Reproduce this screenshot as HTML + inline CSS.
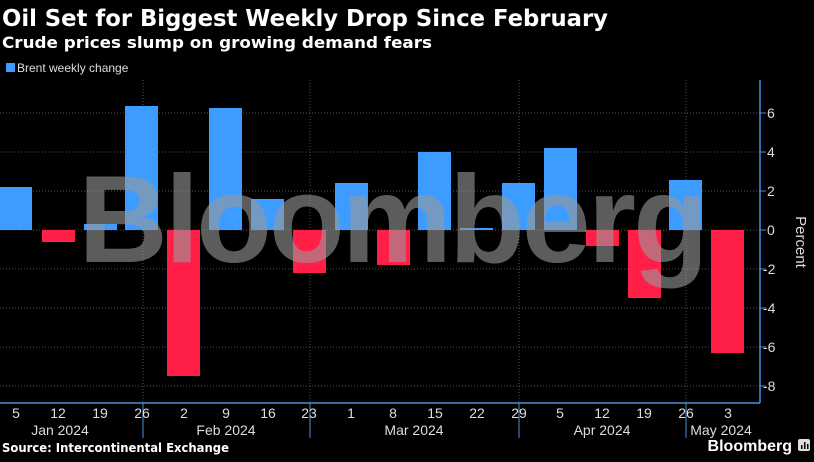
<!DOCTYPE html>
<html><head><style>
body{margin:0;background:#000;width:814px;height:457px;overflow:hidden;font-family:"Liberation Sans",sans-serif;color:#fff}
</style></head><body>
<svg width="814" height="457" xmlns="http://www.w3.org/2000/svg" font-family="Liberation Sans, sans-serif">
<rect width="814" height="457" fill="#000"/>
<text x="2" y="26" font-size="23" font-weight="bold" fill="#fff" font-family="DejaVu Sans, sans-serif" textLength="606" lengthAdjust="spacingAndGlyphs">Oil Set for Biggest Weekly Drop Since February</text>
<text x="2" y="48" font-size="16" font-weight="bold" fill="#fff" font-family="DejaVu Sans, sans-serif" textLength="430" lengthAdjust="spacingAndGlyphs">Crude prices slump on growing demand fears</text>
<rect x="6" y="63" width="9" height="9" fill="#3d9cff"/>
<text x="17" y="72" font-size="12" fill="#ddd">Brent weekly change</text>
<g stroke="#555" stroke-dasharray="1,2" stroke-width="1">
<line x1="0" x2="760" y1="113" y2="113"/><line x1="0" x2="760" y1="152" y2="152"/>
<line x1="0" x2="760" y1="191" y2="191"/><line x1="0" x2="760" y1="230" y2="230"/>
<line x1="0" x2="760" y1="269" y2="269"/><line x1="0" x2="760" y1="308" y2="308"/>
<line x1="0" x2="760" y1="347" y2="347"/><line x1="0" x2="760" y1="386" y2="386"/>
<line x1="143" x2="143" y1="80" y2="403"/><line x1="310" x2="310" y1="80" y2="403"/>
<line x1="519" x2="519" y1="80" y2="403"/><line x1="686" x2="686" y1="80" y2="403"/>
</g>
<g fill="#3d9cff">
<rect x="0" y="187" width="32" height="43"/>
<rect x="84" y="224" width="33" height="6"/>
<rect x="125" y="106" width="33" height="124"/>
<rect x="209" y="108" width="33" height="122"/>
<rect x="251" y="199" width="33" height="31"/>
<rect x="335" y="183" width="33" height="47"/>
<rect x="418" y="152" width="33" height="78"/>
<rect x="460" y="228" width="33" height="2"/>
<rect x="502" y="183" width="33" height="47"/>
<rect x="544" y="148" width="33" height="82"/>
<rect x="669" y="180" width="33" height="50"/>
</g>
<g fill="#ff1f47">
<rect x="42" y="230" width="33" height="12"/>
<rect x="167" y="230" width="33" height="146"/>
<rect x="293" y="230" width="33" height="43"/>
<rect x="377" y="230" width="33" height="35"/>
<rect x="586" y="230" width="33" height="16"/>
<rect x="628" y="230" width="33" height="68"/>
<rect x="711" y="230" width="33" height="123"/>
</g>
<text x="392" y="262" text-anchor="middle" font-size="124" font-weight="bold" fill="#9a9a9a" fill-opacity="0.6" letter-spacing="-3">Bloomberg</text>
<g stroke="#4a90d9" stroke-width="1.5" fill="none">
<line x1="760" y1="80" x2="760" y2="403"/><line x1="0" y1="403" x2="760" y2="403"/>
</g>
<g stroke="#4a90d9" stroke-width="1">
<line x1="760" x2="766" y1="113" y2="113"/><line x1="760" x2="766" y1="152" y2="152"/>
<line x1="760" x2="766" y1="191" y2="191"/><line x1="760" x2="766" y1="230" y2="230"/>
<line x1="760" x2="766" y1="269" y2="269"/><line x1="760" x2="766" y1="308" y2="308"/>
<line x1="760" x2="766" y1="347" y2="347"/><line x1="760" x2="766" y1="386" y2="386"/>
<line x1="143" x2="143" y1="403" y2="438"/><line x1="310" x2="310" y1="403" y2="438"/>
<line x1="519" x2="519" y1="403" y2="438"/><line x1="686" x2="686" y1="403" y2="438"/>
</g>
<g font-size="14" fill="#ddd">
<text x="767" y="118">6</text><text x="767" y="157">4</text><text x="767" y="196">2</text><text x="767" y="235">0</text>
<text x="763" y="274">-2</text><text x="763" y="313">-4</text><text x="763" y="352">-6</text><text x="763" y="391">-8</text>
</g>
<text transform="translate(796,242) rotate(90)" text-anchor="middle" font-size="15" fill="#ddd">Percent</text>
<g font-size="14" fill="#ddd" text-anchor="middle">
<text x="16" y="418">5</text><text x="58" y="418">12</text><text x="100" y="418">19</text><text x="142" y="418">26</text>
<text x="184" y="418">2</text><text x="226" y="418">9</text><text x="268" y="418">16</text><text x="309" y="418">23</text>
<text x="351" y="418">1</text><text x="393" y="418">8</text><text x="435" y="418">15</text><text x="477" y="418">22</text>
<text x="519" y="418">29</text><text x="560" y="418">5</text><text x="602" y="418">12</text><text x="644" y="418">19</text>
<text x="686" y="418">26</text><text x="728" y="418">3</text>
<text x="60" y="435">Jan 2024</text><text x="226" y="435">Feb 2024</text><text x="414" y="435">Mar 2024</text>
<text x="602" y="435">Apr 2024</text><text x="721" y="435">May 2024</text>
</g>
<text x="2" y="452" font-size="12" font-weight="bold" fill="#fff" font-family="DejaVu Sans, sans-serif" textLength="227" lengthAdjust="spacingAndGlyphs">Source: Intercontinental Exchange</text>
<text x="792" y="451" text-anchor="end" font-size="16" font-weight="bold" fill="#fff">Bloomberg</text>
<rect x="798" y="439" width="12" height="12" rx="2" fill="#ddd"/>
<g fill="#000"><rect x="801" y="445" width="1.5" height="4"/><rect x="804" y="442" width="1.5" height="7"/><rect x="807" y="444" width="1.5" height="5"/></g>
</svg>
</body></html>
